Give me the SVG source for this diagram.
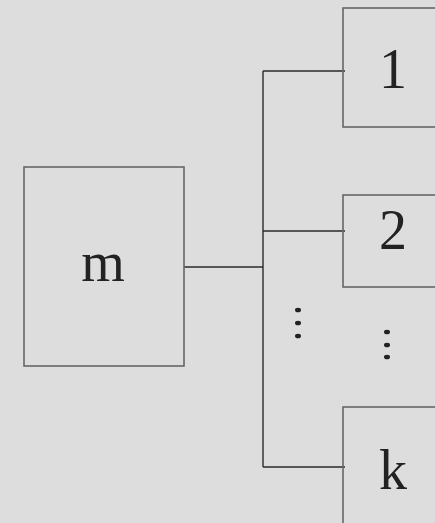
<svg xmlns="http://www.w3.org/2000/svg" width="435" height="523" viewBox="0 0 435 523">
<style>
.box{fill:none;stroke:#666;stroke-width:1.6}
.lbl{font-family:"Liberation Serif","Times New Roman",serif;font-size:56px;fill:#222;text-anchor:middle}
.dot{fill:#222}
#connectors path{fill:none;stroke:#2a2a2a;stroke-width:1.4}
</style>
<rect width="435" height="523" fill="#dddddd"/>
<g id="connectors">
<path d="M184,267 H263"/>
<path d="M263,71 V467"/>
<path d="M263,71 H345"/>
<path d="M263,231 H345"/>
<path d="M263,467 H345"/>
</g>
<g id="node-m"><rect class="box" x="24" y="167" width="160" height="199"/><text class="lbl" x="103" y="281">m</text></g>
<g id="node-1"><rect class="box" x="343" y="8" width="100" height="119"/><text class="lbl" x="393" y="88">1</text></g>
<g id="node-2"><rect class="box" x="343" y="195" width="100" height="92"/><text class="lbl" x="393" y="249">2</text></g>
<g id="node-k"><rect class="box" x="343" y="407" width="100" height="130"/><text class="lbl" x="393" y="489">k</text></g>
<g id="ellipsis-left">
<ellipse class="dot" cx="298" cy="310" rx="3" ry="2.3"/>
<ellipse class="dot" cx="298" cy="323" rx="3" ry="2.3"/>
<ellipse class="dot" cx="298" cy="336" rx="3" ry="2.3"/>
</g>
<g id="ellipsis-right">
<ellipse class="dot" cx="387" cy="332" rx="3" ry="2.3"/>
<ellipse class="dot" cx="387" cy="345" rx="3" ry="2.3"/>
<ellipse class="dot" cx="387" cy="357" rx="3" ry="2.3"/>
</g>
</svg>
